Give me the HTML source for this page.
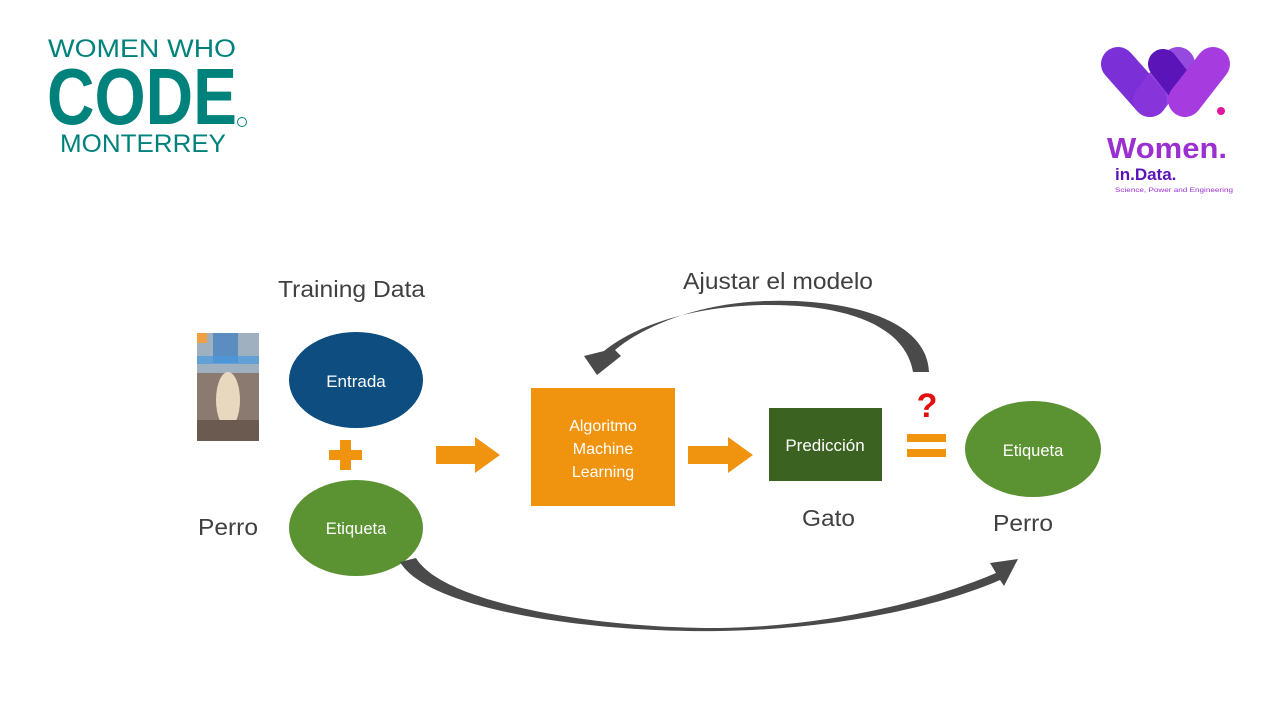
<!DOCTYPE html>
<html><head><meta charset="utf-8"><style>
html,body{margin:0;padding:0;background:#fff;}
svg{display:block}
</style></head><body>
<svg width="1280" height="720" viewBox="0 0 1280 720" xmlns="http://www.w3.org/2000/svg" font-family="Liberation Sans, sans-serif">
<rect width="1280" height="720" fill="#fff"/>
<!-- WWC logo -->
<g fill="#00827c">
<text x="48" y="57" font-size="25" textLength="188" lengthAdjust="spacingAndGlyphs">WOMEN WHO</text>
<text x="47" y="124" font-size="80" font-weight="bold" textLength="190" lengthAdjust="spacingAndGlyphs">CODE</text>
<text x="60" y="152" font-size="25" textLength="166" lengthAdjust="spacingAndGlyphs">MONTERREY</text>
<circle cx="242" cy="122" r="4.5" fill="none" stroke="#00827c" stroke-width="1"/>
</g>
<!-- Women in Data logo -->
<g stroke-linecap="round" fill="none">
<line x1="1118" y1="64" x2="1150" y2="100" stroke="#7b2fd6" stroke-width="34"/>
<line x1="1150" y1="100" x2="1178" y2="64" stroke="#8a35dc" stroke-width="34" opacity="0.9"/>
<line x1="1163" y1="64" x2="1185" y2="92" stroke="#5a14b8" stroke-width="30"/>
<line x1="1185" y1="100" x2="1213" y2="64" stroke="#a63be0" stroke-width="34"/>
</g>
<circle cx="1221" cy="111" r="4" fill="#e0179a"/>
<text x="1107" y="158" font-size="29" fill="#9b2fd0" font-weight="bold" textLength="120" lengthAdjust="spacingAndGlyphs">Women.</text>
<text x="1115" y="180" font-size="17" fill="#5a14b8" font-weight="bold">in.Data.</text>
<text x="1115" y="192" font-size="6.5" fill="#9b2fd0" textLength="118" lengthAdjust="spacingAndGlyphs">Science, Power and Engineering</text>
<!-- texts -->
<g fill="#404040" font-size="23.5">
<text x="278" y="297" textLength="147" lengthAdjust="spacingAndGlyphs">Training Data</text>
<text x="683" y="289" textLength="190" lengthAdjust="spacingAndGlyphs">Ajustar el modelo</text>
<text x="198" y="535" textLength="60" lengthAdjust="spacingAndGlyphs">Perro</text>
<text x="802" y="526" textLength="53" lengthAdjust="spacingAndGlyphs">Gato</text>
<text x="993" y="531" textLength="60" lengthAdjust="spacingAndGlyphs">Perro</text>
</g>
<!-- photo -->
<rect x="197" y="333" width="62" height="108" fill="#8a7a70"/>
<rect x="197" y="333" width="62" height="40" fill="#9fb0c0"/>
<rect x="197" y="333" width="10" height="10" fill="#f0a040"/>
<rect x="213" y="333" width="25" height="30" fill="#3f7fc0" opacity="0.7"/>
<rect x="197" y="356" width="62" height="8" fill="#4a9ae0" opacity="0.7"/>
<ellipse cx="228" cy="400" rx="12" ry="28" fill="#e8d8c0"/>
<rect x="197" y="420" width="62" height="21" fill="#6a5a50"/>
<!-- ellipses -->
<ellipse cx="356" cy="380" rx="67" ry="48" fill="#0d4d80"/>
<text x="356" y="387" font-size="17" fill="#fff" text-anchor="middle">Entrada</text>
<ellipse cx="356" cy="528" rx="67" ry="48" fill="#5b9332"/>
<text x="356" y="534" font-size="16.5" fill="#fff" text-anchor="middle">Etiqueta</text>
<ellipse cx="1033" cy="449" rx="68" ry="48" fill="#5b9332"/>
<text x="1033" y="456" font-size="16.5" fill="#fff" text-anchor="middle">Etiqueta</text>
<!-- plus -->
<rect x="329" y="450" width="33" height="10" fill="#f0930f"/>
<rect x="340" y="440" width="11" height="30" fill="#f0930f"/>
<!-- arrows orange -->
<path d="M436,446 L475,446 L475,437 L500,455 L475,473 L475,464 L436,464 Z" fill="#f0930f"/>
<path d="M688,446 L728,446 L728,437 L753,455 L728,473 L728,464 L688,464 Z" fill="#f0930f"/>
<!-- boxes -->
<rect x="531" y="388" width="144" height="118" fill="#f0930f"/>
<text x="603" y="431" font-size="16" fill="#fff" text-anchor="middle">Algoritmo</text>
<text x="603" y="454" font-size="16" fill="#fff" text-anchor="middle">Machine</text>
<text x="603" y="477" font-size="16" fill="#fff" text-anchor="middle">Learning</text>
<rect x="769" y="408" width="113" height="73" fill="#3b6220"/>
<text x="825" y="451" font-size="17" fill="#fff" text-anchor="middle">Predicción</text>
<!-- equals -->
<rect x="907" y="434" width="39" height="8" fill="#f0930f"/>
<rect x="907" y="449" width="39" height="8" fill="#f0930f"/>
<text x="927" y="417" font-size="34" font-weight="bold" fill="#e01010" text-anchor="middle">?</text>
<!-- curved arrows -->
<path d="M913,372 L929,372 C927,320 850,298 765,301 C700,303 645,325 615,350 L621,356 L597,375 L584,356 L604,351 C640,322 700,306 765,305 C845,304 905,325 913,372 Z" fill="#4a4a4a"/>
<path d="M400,562 C430,612 600,633 720,631 C850,629 950,602 1000,580 L1004,586 L1018,559 L990,563 L996,573 C940,597 840,626 720,628 C610,629 445,606 416,558 Z" fill="#4a4a4a"/>
</svg>
</body></html>
